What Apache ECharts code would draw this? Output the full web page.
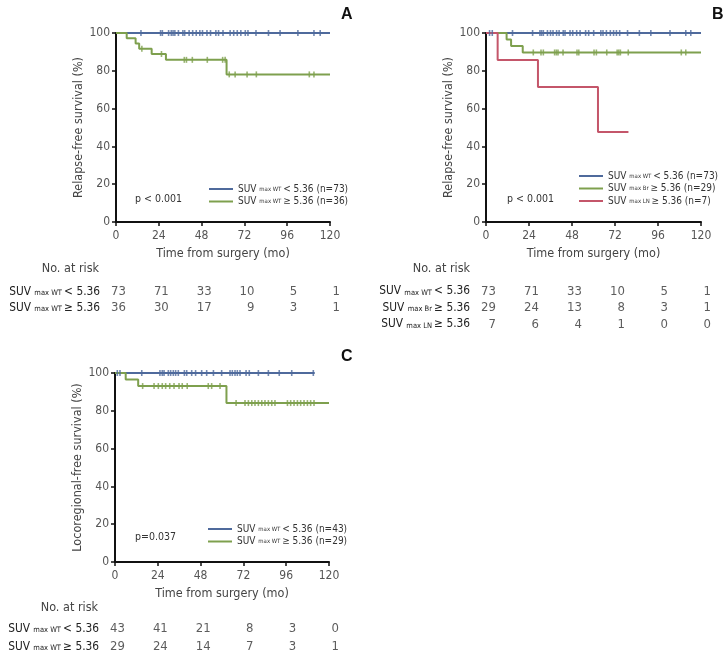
<!DOCTYPE html>
<html><head><meta charset="utf-8">
<script src="https://cdn.jsdelivr.net/npm/echarts@6/dist/echarts.min.js"></script>
<style>html,body{margin:0;padding:0;background:#fff}#c{width:727px;height:662px}</style>
</head><body><div id="c"></div>
<script>
// ---------- data ----------
const riskTimes = [0, 24, 48, 72, 96, 120];

// Panel A (relapse-free survival)
const stepsA1 = [[0,100],[120,100]];
const censorA1 = [14,25,26,29.5,31,32,33,35,37.5,38.5,41,43,45,47,48.5,51,53,56,57.5,60,64,66,68,70,72.5,74,78.5,85.5,92,102,111,114.5];
const stepsA2 = [[0,100],[6,97.2],[11,94.4],[13,91.7],[20,88.9],[28,85.8],[62,78.1],[120,78.1]];
const censorA2 = [14.5,25.5,38.3,39.5,42.8,51.2,59.8,61.2,63.5,66.8,73.5,78.7,108.4,111];
const riskA1 = [73,71,33,10,5,1];
const riskA2 = [36,30,17,9,3,1];
const legendA = ['SUV|max WT|< 5.36 (n=73)','SUV|max WT|≥ 5.36 (n=36)'];
const rowsA = ['SUV|max WT|< 5.36','SUV|max WT|≥ 5.36'];

// Panel B
const stepsB1 = [[0,100],[120,100]];
const censorB1 = [2,3.5,14.8,26,30.1,31,32,34.3,36,37.4,39.4,40.8,43.1,44.1,46.9,48.4,50.6,52.5,55.6,57.3,60.1,64.1,65.3,67.2,69.4,71.2,72.8,74.6,79,85.6,92,102.7,111.5,114.3];
const stepsB2 = [[0,100],[11.5,96.6],[14,93.1],[20.5,89.7],[120,89.7]];
const censorB2 = [26.4,30.7,32,38.3,39.3,40.2,43,50.8,51.8,60.3,61.6,67.4,73.2,74.1,75,79.4,109,111.5];
const stepsB3 = [[0,100],[6.5,85.7],[29,71.4],[62.5,47.6],[79.5,47.6]];
const censorB3 = [];
const riskB1 = [73,71,33,10,5,1];
const riskB2 = [29,24,13,8,3,1];
const riskB3 = [7,6,4,1,0,0];
const legendB = ['SUV|max WT|< 5.36 (n=73)','SUV|max Br|≥ 5.36 (n=29)','SUV|max LN|≥ 5.36 (n=7)'];
const rowsB = ['SUV|max WT|< 5.36','SUV|max Br|≥ 5.36','SUV|max LN|≥ 5.36'];

// Panel C (locoregional-free survival)
const stepsC1 = [[0,100],[112,100]];
const censorC1 = [1.3,2.8,15,25.2,26.5,27.5,29.9,31.2,32.7,34,35.5,38.9,40.2,43,45.2,48.6,51.4,55.2,59.8,64.5,65.8,67.3,68.6,70.1,73.5,75.3,80.4,86,92.1,99.1,111.2];
const stepsC2 = [[0,100],[6,96.6],[13,93.1],[62.5,84.1],[120,84.1]];
const censorC2 = [15.5,21.9,24.3,26.5,28.4,30.7,33.1,35.9,37.7,40.5,52.3,54.2,58.9,67.9,72.9,74.8,76.7,78.5,80.4,82.3,84.1,86,87.9,89.7,96.7,98.5,100.4,102.3,104.1,106,107.9,109.7,111.6];
const riskC1 = [43,41,21,8,3,0];
const riskC2 = [29,24,14,7,3,1];
const legendC = ['SUV|max WT|< 5.36 (n=43)','SUV|max WT|≥ 5.36 (n=29)'];
const rowsC = ['SUV|max WT|< 5.36','SUV|max WT|≥ 5.36'];

// ---------- styling ----------
const FONT = "'Liberation Sans Narrow','DejaVu Sans Condensed','Roboto Condensed',sans-serif";
const BLUE = '#4f6a9c', GREEN = '#7ea04e', RED = '#c4566a';

function valueAt(steps, t){ let v = steps[0][1]; for (const s of steps){ if (s[0] <= t) v = s[1]; } return v; }

const grids = [
  {left:116, top:33, width:214, height:189},
  {left:486, top:33, width:215, height:189},
  {left:115, top:373, width:214, height:189},
  {left:116, top:284, width:214, height:32},
  {left:486, top:283, width:215, height:49.5},
  {left:115, top:620, width:214, height:36}
];

function plotX(gi){
  return {type:'value', gridIndex:gi, min:0, max:120, interval:24,
    name:'Time from surgery (mo)', nameLocation:'middle', nameGap:25,
    nameTextStyle:{fontFamily:FONT, fontSize:12.5, color:'#444'},
    axisLine:{lineStyle:{color:'#111', width:2}},
    axisTick:{show:true, length:4, lineStyle:{color:'#111', width:1.5}},
    axisLabel:{fontFamily:FONT, fontSize:12, color:'#555', margin:8},
    splitLine:{show:false}};
}
function plotY(gi, title){
  return {type:'value', gridIndex:gi, min:0, max:100, interval:20,
    name:title, nameLocation:'middle', nameGap:27,
    nameTextStyle:{fontFamily:FONT, fontSize:12.5, color:'#444'},
    axisLine:{show:true, lineStyle:{color:'#111', width:2}},
    axisTick:{show:true, length:4, lineStyle:{color:'#111', width:1.5}},
    axisLabel:{fontFamily:FONT, fontSize:12, color:'#555', margin:6},
    splitLine:{show:false}};
}
function riskX(gi){ return {type:'value', gridIndex:gi, min:0, max:120, show:false}; }
function riskY(gi, rows){
  return {type:'category', gridIndex:gi, inverse:true, data:rows,
    axisLine:{show:false}, axisTick:{show:false}, splitLine:{show:false},
    axisLabel:{margin:16, formatter:function(v){ const p=v.split('|'); return '{b|'+p[0]+' }{s|'+p[1]+' }{b|'+p[2]+'}'; },
      rich:{b:{fontFamily:FONT, fontSize:11.8, color:'#222'}, s:{fontFamily:FONT, fontSize:7.5, color:'#222', padding:[3,0,0,0]}}}};
}

const series = [];
function km(name, steps, censor, color, ai){
  series.push({name:name, type:'line', step:'end', data:steps, showSymbol:false, xAxisIndex:ai, yAxisIndex:ai,
    lineStyle:{color:color, width:2}, itemStyle:{color:color}, animation:false, z:3});
  if (censor.length) series.push({name:name+'_c', type:'scatter', xAxisIndex:ai, yAxisIndex:ai,
    data:censor.map(t=>[t, valueAt(steps,t)]), symbol:'rect', symbolSize:[1.6,6],
    itemStyle:{color:color}, animation:false, z:4});
}
function risk(values, row, ai){
  series.push({type:'scatter', xAxisIndex:ai, yAxisIndex:ai, symbolSize:0, silent:true, animation:false,
    data:riskTimes.map((t,i)=>[t,row,values[i]]),
    label:{show:true, position:'left', distance:0, offset:[10,0], formatter:p=>String(p.value[2]),
      fontFamily:FONT, fontSize:13, color:'#333'}});
}

km('a1', stepsA1, censorA1, BLUE, 0);
km('a2', stepsA2, censorA2, GREEN, 0);
km('b1', stepsB1, censorB1, BLUE, 1);
km('b2', stepsB2, censorB2, GREEN, 1);
km('b3', stepsB3, censorB3, RED, 1);
km('c1', stepsC1, censorC1, BLUE, 2);
km('c2', stepsC2, censorC2, GREEN, 2);
risk(riskA1, 0, 3); risk(riskA2, 1, 3);
risk(riskB1, 0, 4); risk(riskB2, 1, 4); risk(riskB3, 2, 4);
risk(riskC1, 0, 5); risk(riskC2, 1, 5);

const legendMap = {a1:legendA[0], a2:legendA[1], b1:legendB[0], b2:legendB[1], b3:legendB[2], c1:legendC[0], c2:legendC[1]};
function mkLegend(names, left, top){
  return {data:names, left:left, top:top, orient:'vertical', icon:'rect', itemWidth:24, itemHeight:2,
    itemGap:2.5, padding:0, selectedMode:false,
    formatter:function(n){ const p = legendMap[n].split('|'); return '{b|'+p[0]+' }{s|'+p[1]+' }{b|'+p[2]+'}'; },
    textStyle:{rich:{b:{fontFamily:FONT, fontSize:10, color:'#333'}, s:{fontFamily:FONT, fontSize:6, color:'#333'}}}};
}

const txt = (x,y,t,opt)=>Object.assign({type:'text', x:x, y:y, style:Object.assign({text:t, fontFamily:FONT, fontSize:12.5, fill:'#444', textVerticalAlign:'middle'}, opt||{})});
const letter = (x,y,t)=>({type:'text', x:x, y:y, style:{text:t, fontFamily:"'Liberation Sans','DejaVu Sans',sans-serif", fontSize:16, fontWeight:'bold', fill:'#111', textVerticalAlign:'middle'}});

const option = {
  backgroundColor:'#fff', animation:false,
  grid: grids,
  xAxis: [plotX(0), plotX(1), plotX(2), riskX(3), riskX(4), riskX(5)],
  yAxis: [plotY(0,'Relapse-free survival (%)'), plotY(1,'Relapse-free survival (%)'), plotY(2,'Locoregional-free survival (%)'),
          riskY(3, rowsA), riskY(4, rowsB), riskY(5, rowsC)],
  legend: [mkLegend(['a1','a2'], 209, 184), mkLegend(['b1','b2','b3'], 579, 171), mkLegend(['c1','c2'], 208, 524)],
  series: series,
  graphic: [
    letter(341, 15, 'A'), letter(712, 15, 'B'), letter(341, 357, 'C'),
    txt(99, 269, 'No. at risk', {textAlign:'right'}),
    txt(470, 269, 'No. at risk', {textAlign:'right'}),
    txt(98, 608, 'No. at risk', {textAlign:'right'}),
    txt(135, 199, 'p < 0.001', {fontSize:10.5, fill:'#333'}),
    txt(507, 199, 'p < 0.001', {fontSize:10.5, fill:'#333'}),
    txt(135, 537, 'p=0.037', {fontSize:10.5, fill:'#333'})
  ]
};
const chart = echarts.init(document.getElementById('c'), null, {renderer:'canvas'});
chart.setOption(option);
</script></body></html>
